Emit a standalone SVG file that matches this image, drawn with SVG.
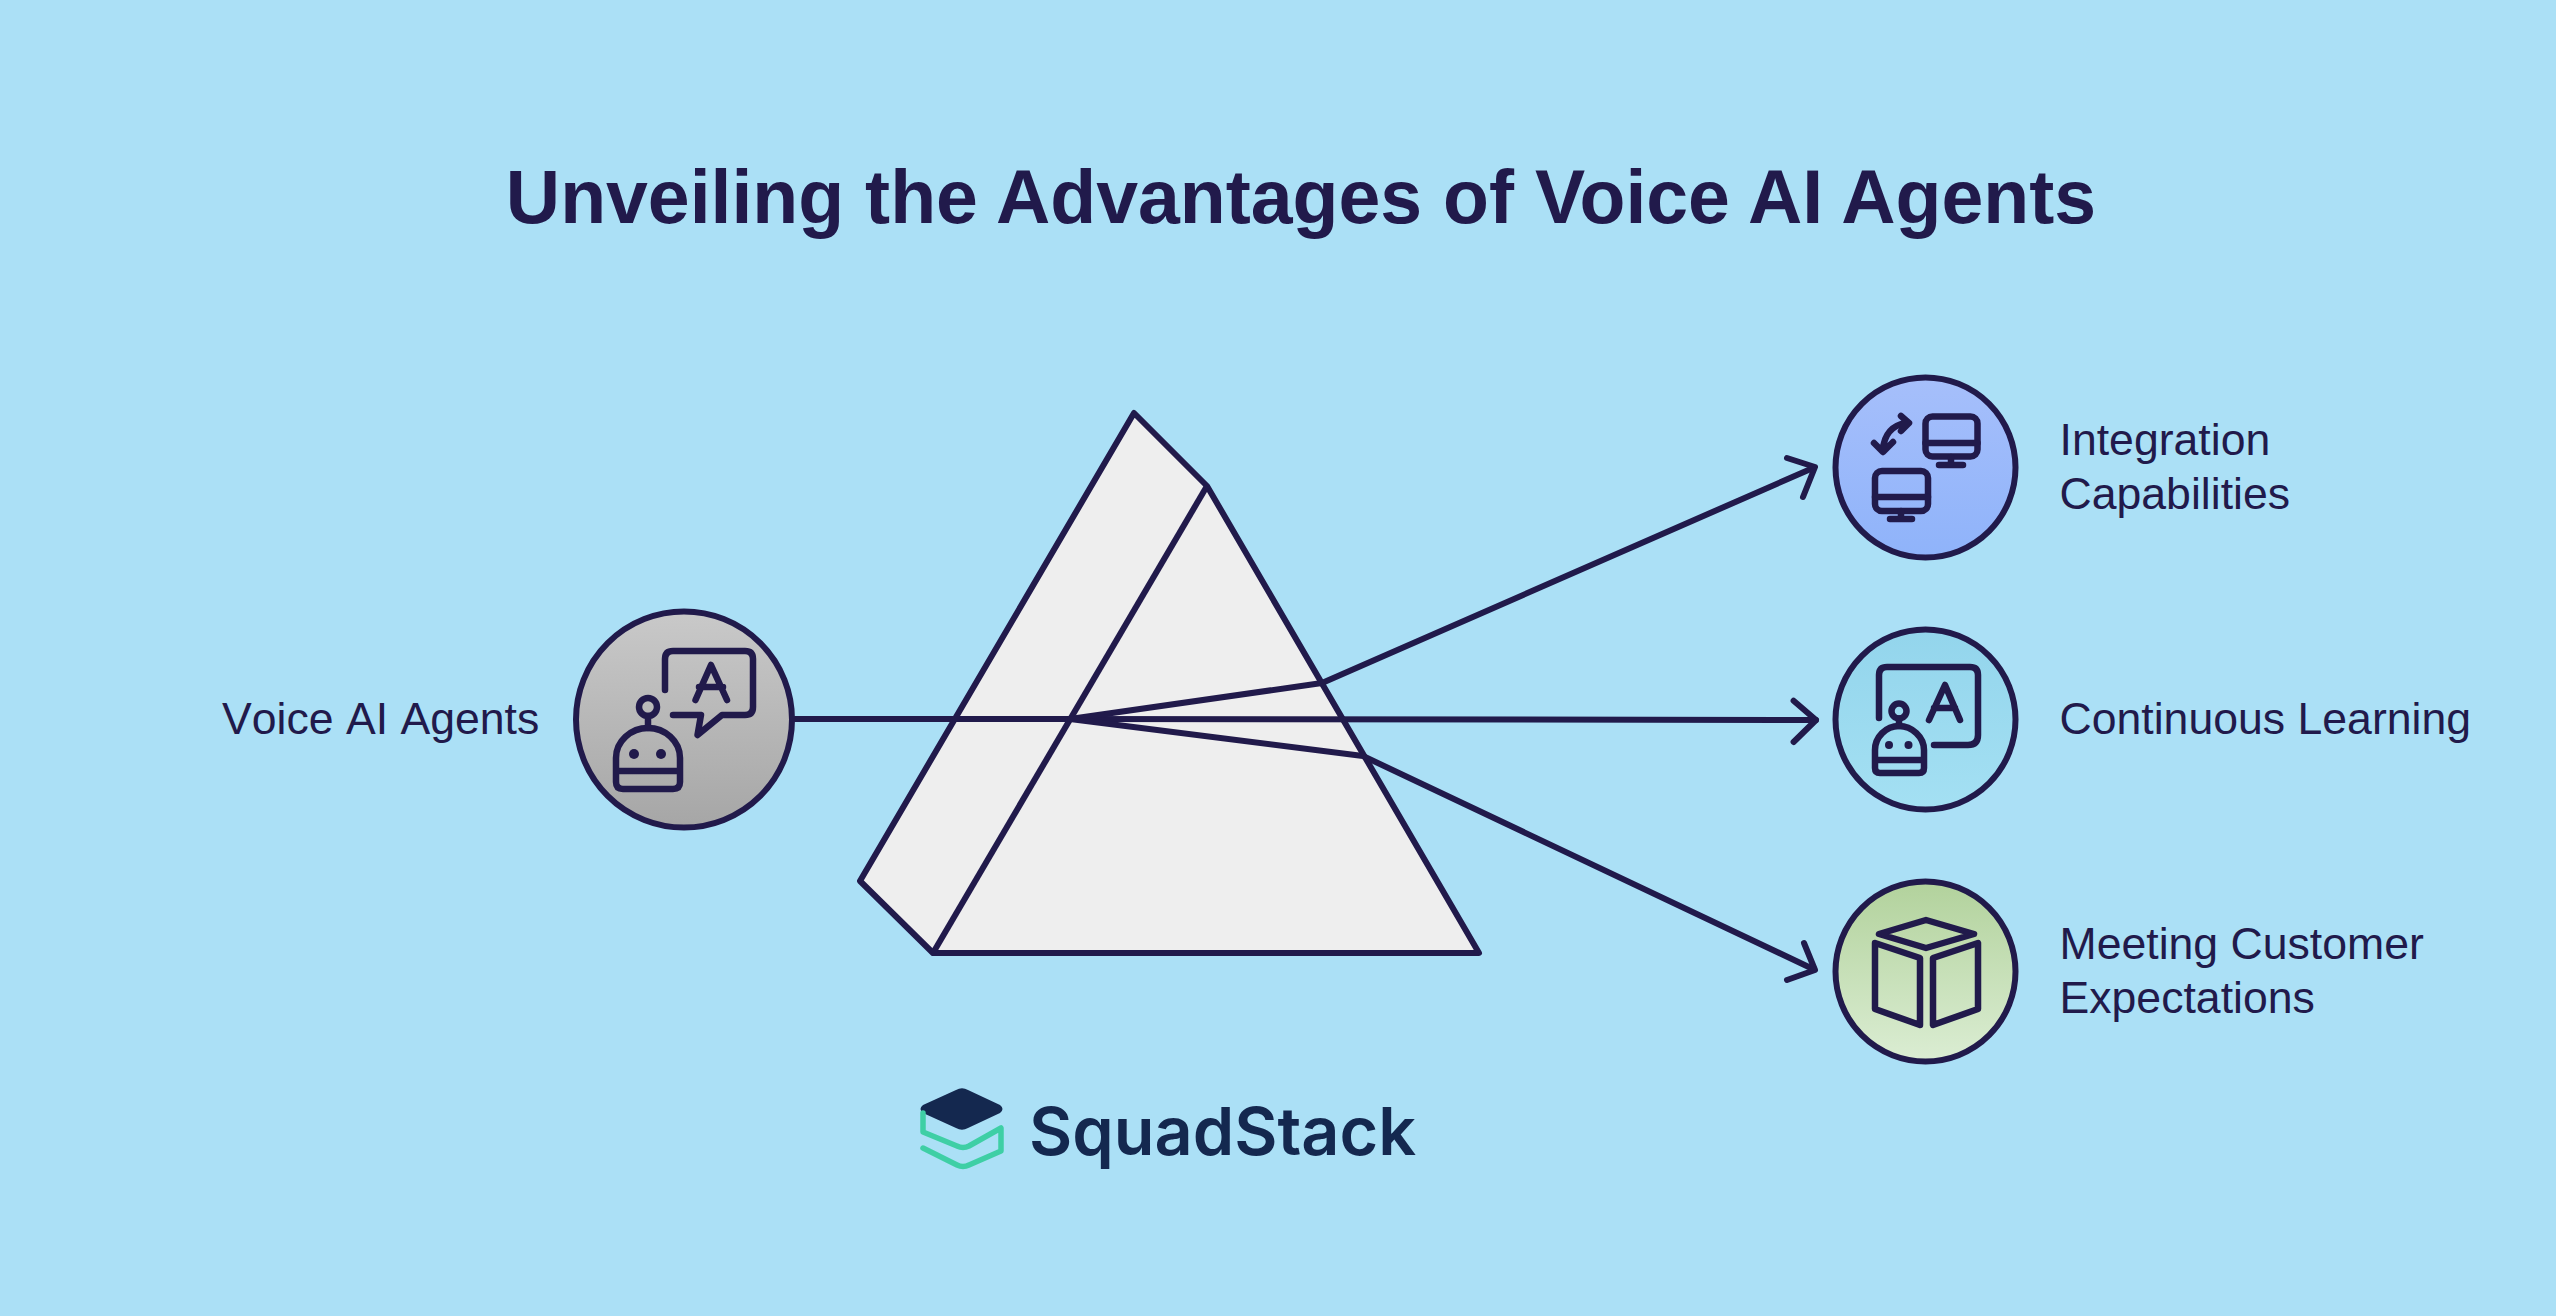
<svg xmlns="http://www.w3.org/2000/svg" width="2556" height="1316" viewBox="0 0 2556 1316">
<style>
.s{fill:none;stroke:#211a4b;stroke-width:6;stroke-linecap:round;stroke-linejoin:round}
.c{stroke:#211a4b;stroke-width:6}
.i{fill:none;stroke:#211a4b;stroke-width:6.500;stroke-linecap:round;stroke-linejoin:round}
.d{fill:#211a4b}
.t{font-family:"Liberation Sans",Arial,sans-serif;font-size:44.600px;fill:#211a4b;font-kerning:none}
.p{fill:#eeeeee;stroke:#211a4b;stroke-width:6;stroke-linejoin:round}
</style>
<defs>
<linearGradient id="g1" x1="0" y1="0" x2="0" y2="1"><stop offset="0" stop-color="#c9c9c9"/><stop offset="1" stop-color="#a6a6a6"/></linearGradient>
<linearGradient id="g2" x1="0" y1="0" x2="0" y2="1"><stop offset="0" stop-color="#a6bffb"/><stop offset="1" stop-color="#8fb3fa"/></linearGradient>
<linearGradient id="g3" x1="0" y1="0" x2="0" y2="1"><stop offset="0" stop-color="#93d5ec"/><stop offset="1" stop-color="#a4e0f3"/></linearGradient>
<linearGradient id="g4" x1="0" y1="0" x2="0" y2="1"><stop offset="0" stop-color="#b2d29c"/><stop offset="1" stop-color="#dbedd3"/></linearGradient>
</defs>
<rect width="2556" height="1316" fill="#abe0f6"/>
<text id="title" x="1301" y="222.500" text-anchor="middle" font-family="'Liberation Sans',Arial,sans-serif" font-weight="700" font-size="75.200" fill="#211a4b">Unveiling the Advantages of Voice AI Agents</text>
<g id="prism">
<path class="p" d="M1134 413L1207 486L1479 953L933 953L860 881Z"/>
<path class="p" d="M1207 486L933 953"/>
</g>
<g id="connectors">
<path class="s" d="M795 719L1070 719L1816 720"/>
<path class="s" d="M1793.600 700.700L1816 720L1793.600 742"/>
<path class="s" d="M1070 719L1322 683L1813 468"/>
<path class="s" d="M1787 458L1815 467L1803 497"/>
<path class="s" d="M1070 719L1363 756L1813 969"/>
<path class="s" d="M1804 943L1815 970L1787 980"/>
</g>
<g id="node-voice">
<circle class="c" cx="684" cy="719.500" r="108" fill="url(#g1)"/>
<path class="i" d="M665 690V659Q665 651 673 651H745Q753 651 753 659V707Q753 715 745 715H722L697.500 735L701 715H673"/>
<path class="i" d="M695.500 700L711 665L727 700M699 687H723"/>
<circle class="i" cx="648" cy="707" r="9"/>
<path class="i" d="M648 716V728"/>
<path class="i" d="M616 771V758C616 741 631 728 648 728C665 728 680 741 680 758V782Q680 789 673 789H623Q616 789 616 782V771H680"/>
<circle class="d" cx="634" cy="754" r="5"/><circle class="d" cx="661" cy="754" r="5"/>
<text class="t" x="222" y="733.500">Voice AI Agents</text>
</g>
<g id="node-integration">
<circle class="c" cx="1925.500" cy="467.500" r="90" fill="url(#g2)"/>
<rect class="i" x="1925.500" y="416.500" width="52" height="40" rx="7"/>
<path class="i" d="M1925.500 443H1977.500M1951 457V465M1939 465H1963"/>
<rect class="i" x="1875" y="471" width="53" height="40" rx="7"/>
<path class="i" d="M1875 497H1928M1901 511V519M1890 519H1912"/>
<path class="i" d="M1906 423C1893 425 1884 434 1883 450M1901 416L1909 423L1901 431M1874 443L1883 452L1893 442"/>
<text class="t" x="2059.500" y="454.500">Integration</text>
<text class="t" x="2059.500" y="508.500">Capabilities</text>
</g>
<g id="node-learning">
<circle class="c" cx="1925.500" cy="719.500" r="90" fill="url(#g3)"/>
<path class="i" d="M1879 718V675Q1879 667 1887 667H1970Q1978 667 1978 675V735Q1978 745 1968 745H1934"/>
<path class="i" d="M1929 720L1945 685L1960 720M1934 708H1955"/>
<circle class="i" cx="1899" cy="711" r="7.500"/>
<path class="i" d="M1899 718.500V726"/>
<path class="i" d="M1875 760V750C1875 737 1886 726 1899 726C1912 726 1924 737 1924 750V768Q1924 773 1919 773H1880Q1875 773 1875 768V760H1924"/>
<circle class="d" cx="1889" cy="745" r="4"/><circle class="d" cx="1908.500" cy="745" r="4"/>
<text class="t" x="2059.500" y="733.500">Continuous Learning</text>
</g>
<g id="node-customer">
<circle class="c" cx="1925.500" cy="971.500" r="90" fill="url(#g4)"/>
<path class="i" d="M1926 920L1974 934L1926 948L1879 934Z"/>
<path class="i" d="M1875 943L1920 958V1025L1875 1009Z"/>
<path class="i" d="M1933 958L1978 943V1009L1933 1025Z"/>
<text class="t" x="2059.500" y="958.500">Meeting Customer</text>
<text class="t" x="2059.500" y="1012.500">Expectations</text>
</g>
<g id="logo">
<path d="M956 1090Q962 1086.500 968 1090L1000 1105Q1005 1109 1000 1113L968 1128Q962 1131.500 956 1128L923 1113Q918 1109 923 1105Z" fill="#14284f"/>
<path d="M923 1113V1132L957 1146Q963 1149 969 1146L1001 1128V1151L969 1165Q963 1168 957 1165L923 1148" fill="none" stroke="#3ecfa5" stroke-width="5.500" stroke-linecap="round" stroke-linejoin="round"/>
<text x="1029" y="1155" font-family="Inter,'Liberation Sans',sans-serif" font-weight="600" font-size="66.500" fill="#14284f">SquadStack</text>
</g>
</svg>
